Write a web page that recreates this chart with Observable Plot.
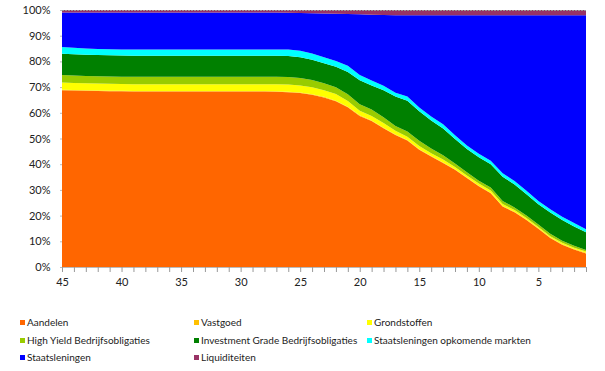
<!DOCTYPE html>
<html>
<head>
<meta charset="utf-8">
<script src="https://cdn.jsdelivr.net/npm/d3@7"></script>
<script src="https://cdn.jsdelivr.net/npm/@observablehq/plot@0.6"></script>
<style>
  html, body { margin: 0; padding: 0; background: #fff; }
  #wrap { position: relative; width: 605px; height: 371px; font-family: Lato, "Open Sans", sans-serif; }
  #legend { position: absolute; left: 0; top: 300px; width: 605px; height: 71px; }
  .item { position: absolute; font-size: 10px; color: #222; white-space: nowrap; line-height: 12px; }
  .sw { display: inline-block; width: 5px; height: 5px; margin-right: 2px; vertical-align: 1px; }
</style>
</head>
<body>
<div id="wrap"><div id="chart"></div><div id="legend"></div></div>
<script>
const years = [45,44,43,42,41,40,39,38,37,36,35,34,33,32,31,30,29,28,27,26,25,24,23,22,21,20,19,18,17,16,15,14,13,12,11,10,9,8,7,6,5,4,3,2,1];

const aandelen = [68.8,68.7,68.6,68.5,68.4,68.4,68.3,68.3,68.3,68.3,68.3,68.3,68.3,68.3,68.3,68.3,68.3,68.3,68.2,68.0,67.7,67.0,66.0,64.5,62.2,58.8,56.8,54.0,51.4,49.2,45.6,43.0,40.5,37.8,34.6,31.4,28.7,23.5,21.3,18.3,14.9,11.3,8.7,6.8,5.3];
const vastgoed = [0.2,0.2,0.2,0.2,0.2,0.2,0.2,0.2,0.2,0.2,0.2,0.2,0.2,0.2,0.2,0.2,0.2,0.2,0.2,0.2,0.2,0.2,0.2,0.2,0.2,0.2,0.2,0.2,0.2,0.2,0.2,0.2,0.2,0.2,0.2,0.2,0.2,0.2,0.2,0.2,0.2,0.2,0.2,0.2,0.2];
const grondstoffen = [2.8,2.7,2.7,2.7,2.7,2.6,2.6,2.6,2.6,2.6,2.6,2.6,2.6,2.6,2.6,2.6,2.6,2.6,2.7,2.8,2.7,2.7,2.6,2.6,2.2,1.8,1.8,1.8,1.4,1.3,1.3,1.1,1.1,0.9,0.8,0.9,0.9,0.8,0.7,0.6,0.5,0.5,0.5,0.5,0.5];
const highYield = [2.9,2.9,2.8,2.8,2.8,2.8,2.9,2.9,2.9,2.9,2.9,2.9,2.9,2.9,2.9,2.9,2.9,2.9,2.9,2.9,2.9,2.9,2.7,2.6,2.6,2.5,2.5,2.3,1.9,2.0,2.0,1.8,1.7,1.4,1.3,1.1,1.1,1.2,1.0,0.9,0.9,0.9,0.8,0.8,0.6];
const investmentGrade = [8.3,8.3,8.3,8.3,8.3,8.3,8.2,8.2,8.2,8.2,8.2,8.2,8.2,8.2,8.2,8.2,8.2,8.2,8.2,8.2,8.1,7.8,7.8,8.0,8.7,9.4,9.3,10.5,11.4,12.0,11.5,10.9,10.4,9.5,9.0,9.1,9.1,9.4,8.9,8.3,7.9,8.3,8.1,7.5,6.9];
const opkomend = [2.6,2.5,2.4,2.3,2.3,2.3,2.4,2.4,2.4,2.4,2.4,2.4,2.4,2.4,2.4,2.4,2.4,2.4,2.4,2.5,2.5,2.5,2.3,2.3,2.4,2.0,2.0,1.7,1.5,1.6,1.5,1.6,1.6,1.5,1.4,1.4,1.3,1.4,1.4,1.4,1.3,1.3,1.3,1.3,1.2];
const staats = [13.4,13.7,14.0,14.2,14.3,14.4,14.4,14.4,14.4,14.4,14.4,14.4,14.4,14.4,14.4,14.4,14.4,14.4,14.4,14.3,14.7,15.6,17.0,18.3,20.1,23.6,25.6,27.6,30.2,31.7,35.9,39.4,42.5,46.7,50.7,53.9,56.7,61.5,64.5,68.3,72.3,75.5,78.4,80.9,83.3];
const liquiditeiten = [1.0,1.0,1.0,1.0,1.0,1.0,1.0,1.0,1.0,1.0,1.0,1.0,1.0,1.0,1.0,1.0,1.0,1.0,1.0,1.1,1.2,1.3,1.4,1.5,1.6,1.7,1.8,1.9,2.0,2.0,2.0,2.0,2.0,2.0,2.0,2.0,2.0,2.0,2.0,2.0,2.0,2.0,2.0,2.0,2.0];

const seriesNames = ["Aandelen","Vastgoed","Grondstoffen","High Yield Bedrijfsobligaties","Investment Grade Bedrijfsobligaties","Staatsleningen opkomende markten","Staatsleningen","Liquiditeiten"];
const seriesValues = [aandelen, vastgoed, grondstoffen, highYield, investmentGrade, opkomend, staats, liquiditeiten];
const colors = ["#ff6600","#ffc000","#ffff00","#99cc00","#008000","#00ffff","#0000ff","#993366"];
const xTickLabels = [45,40,35,30,25,20,15,10,5];
const yTicks = [0,10,20,30,40,50,60,70,80,90,100];

const data = [];
seriesNames.forEach((s, i) => {
  years.forEach((yr, j) => data.push({series: s, year: yr, value: seriesValues[i][j]}));
});

const chart = Plot.plot({
  width: 605,
  height: 300,
  marginLeft: 62,
  marginRight: 19,
  marginTop: 10,
  marginBottom: 33,
  style: {fontFamily: "Lato, 'Open Sans', sans-serif", fontSize: "11px", color: "#222", background: "#fff"},
  x: {domain: [45, 1], label: null},
  y: {domain: [0, 100], label: null},
  color: {domain: seriesNames, range: colors},
  marks: [
    Plot.areaY(data, {x: "year", y: "value", fill: "series", z: "series", order: seriesNames}),
    Plot.ruleY([100], {stroke: "#999", strokeDasharray: "2,1", strokeWidth: 1}),
    Plot.ruleY([0], {stroke: "#aaa", strokeWidth: 0.8}),
    Plot.axisX({ticks: years, tickSize: 5, tickFormat: () => "", stroke: "#999", label: null}),
    Plot.axisX({ticks: xTickLabels, tickSize: 0, tickPadding: 11, tickFormat: d => String(d), label: null}),
    Plot.axisY({ticks: yTicks, tickSize: 2, tickPadding: 10, stroke: "#bbb", tickFormat: d => d + "%", label: null})
  ]
});
document.getElementById("chart").appendChild(chart);

const legend = document.getElementById("legend");
const colX = [20, 194, 367];
const rowY = [16, 34, 51];
seriesNames.forEach((s, i) => {
  const el = document.createElement("div");
  el.className = "item";
  el.style.left = colX[i % 3] + "px";
  el.style.top = rowY[Math.floor(i / 3)] + "px";
  el.innerHTML = `<span class="sw" style="background:${colors[i]}"></span>${s}`;
  legend.appendChild(el);
});
</script>
</body>
</html>
